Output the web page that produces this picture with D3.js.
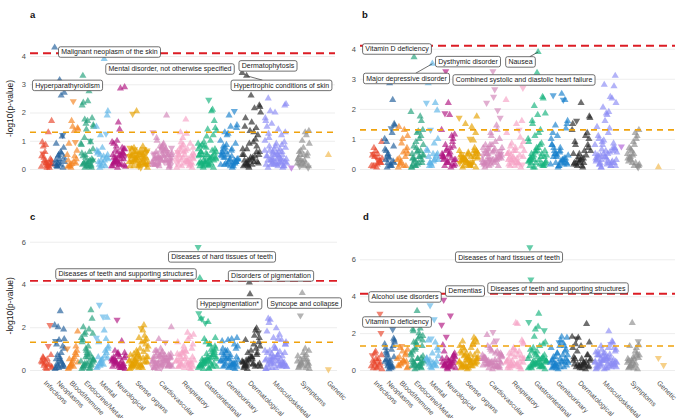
<!DOCTYPE html>
<html><head><meta charset="utf-8">
<script src="https://cdn.jsdelivr.net/npm/d3@7"></script>
<style>
body{margin:0;background:#fff}
svg{display:block}
text{font-family:"Liberation Sans",Arial,Helvetica,sans-serif}
</style>
</head><body>
<svg id="chart" width="680" height="418"></svg>
<script>
// ---------------- DATA ----------------
const categories = ["Infections","Neoplasms","Blood/Immune","Endocrine/Metabolic","Mental","Neurological","Sense organs","Cardiovascular","Respiratory","Gastrointestinal","Genitourinary","Dermatological","Musculoskeletal","Congenital","Symptoms","Injuries","Genetic"];
const axisLabels = ["Infections","Neoplasms","Blood/Immune","Endocrine/Metabolic","Mental","Neurological","Sense organs","Cardiovascular","Respiratory","Gastrointestinal","Genitourinary","Dermatological","Musculoskeletal","","Symptoms","","Genetic"];
// number of phenotypes tested per category (sets the width of each category on the x axis)
const phenotypeCounts = [27,25,27,31,30,34,46,48,44,45,43,45,53,14,30,28,20];
const bonferroni = [4.1, 4.1, 4.17, 4.13];
const nominal = 1.301;
const yTicksTop = [0,1,2,3,4];
const yTicksBottom = [0,2,4,6];
const panelTitles = ["a","b","c","d"];

// -log10(p) per phenotype; sign = direction of effect (negative => downward triangle)
const pheA = [
 [0.3,1.7,0.12,-0.55,0.2,0.85,0.08,1.3,0.4,0.15,-0.25,0.95,0.05,0.6,0.18,-0.1,0.8,0.35,0.22,0.45,0.1,-0.2,0.3,0.05],
 [0.2,2.7,0.15,0.9,-1.2,0.5,4.3,2.6,0.1,0.75,3.15,0.3,1.15,0.45,0.25,0.6,0.12,0.05,0.35,0.18,0.55,0.08,0.4,-0.25],
 [0.15,1.45,-2.4,0.9,0.2,1.7,0.5,1.35,0.1,0.65,1.5,0.3,-0.95,0.05,1.4,0.25,0.12,0.35,0.18,0.08,0.45],
 [1.75,0.3,2.4,3.3,0.15,1.6,0.9,2.75,0.2,1.8,0.1,2.25,-1.0,0.5,1.55,0.25,2.35,0.05,1.4,0.85,0.6,1.1,-0.3,1.7,0.15,0.95,0.4,1.5,0.08,0.2,0.35,0.12,0.55,0.3,0.05,0.7,0.2,0.45,0.1,0.25],
 [0.5,2.05,0.2,0.6,-1.25,0.3,1.5,3.9,0.15,1.9,0.75,0.55,0.1,1.2,0.35,0.45,0.25,0.4,0.1,0.65,0.3,0.05,0.5],
 [0.4,2.9,0.2,0.9,0.6,1.0,0.1,2.85,0.3,0.7,1.65,0.5,0.15,0.8,-0.45,1.4,0.25,0.55,0.05,0.95,0.35,0.65,0.12,0.45,0.2,0.75,0.3,0.08,0.5,0.2,0.35,0.6,0.1,0.45,0.28,0.7,0.15,0.4,0.55,0.25],
 [0.3,-0.6,0.15,0.5,-0.7,2.05,0.25,-0.4,0.1,0.65,-0.2,0.45,0.8,-0.35,0.05,0.55,-1.95,0.2,0.4,-0.75,0.3,0.6,-0.15,0.1,0.7,-0.5,0.35,0.25,-0.05,0.45,0.15,-0.3,0.55,0.2,0.4,-0.65,0.5,-0.25,0.35,0.6,-0.45,0.2,0.75,0.4,-0.1,0.3,0.5,-0.55,0.15,0.65,0.25,-0.35,0.45,0.1,0.55,-0.7],
 [0.4,-0.3,0.6,0.15,-0.55,0.8,0.25,-0.45,1.0,0.1,-0.7,0.35,1.9,-0.2,0.5,0.9,-0.35,0.2,0.65,-1.3,0.3,0.45,-0.1,0.75,0.15,-0.6,0.4,0.55,-0.25,1.1,0.05,0.3,-0.5,0.7,0.2,-0.4,0.85,0.35,0.5,-0.35,0.2,0.65,-0.15,0.4,0.8,-0.55,0.3,0.1,-0.75,0.45,0.6,-0.25,0.35,0.15,0.7,-0.4,0.25,0.5],
 [0.3,0.55,1.75,0.15,0.9,0.4,-0.25,0.7,1.3,0.2,0.5,-0.6,0.1,0.8,0.35,1.25,0.45,-0.15,0.6,0.05,0.25,0.95,0.4,0.65,-0.3,0.2,1.1,0.5,0.3,0.75,0.45,0.2,0.6,0.35,0.1,0.75,0.3,0.5,0.15,0.85,0.4,0.25,0.65,0.05],
 [0.3,1.45,0.15,0.6,2.1,0.25,0.9,0.4,-0.2,1.7,0.5,0.1,2.05,0.8,0.35,-2.45,0.2,1.2,0.55,0.45,1.0,0.05,0.7,1.4,0.25,0.65,-0.4,1.35,0.15,0.85,0.3,1.15,0.5,0.2,0.95,0.4,0.1,0.6,0.45,0.2,0.7,0.35,0.1,0.55,0.25,0.8,0.4,0.15,0.6,0.3,0.5,0.05,0.75,0.2],
 [0.2,1.55,0.35,0.7,-2.05,0.15,1.0,0.45,1.3,0.25,1.9,0.6,0.1,0.85,-0.3,1.5,0.4,0.2,1.25,0.5,0.05,0.75,1.45,0.3,0.55,-0.15,1.2,0.35,0.65,0.15,0.9,0.25,0.45,0.2,0.6,0.35,0.1,0.8,0.3,0.5,0.15,0.7,0.4,0.25],
 [0.3,2.25,0.15,1.5,0.6,0.9,3.4,1.3,3.3,0.2,2.6,0.5,1.05,0.1,2.2,0.4,1.8,0.25,1.35,0.7,2.15,0.15,0.5,1.65,0.3,1.45,0.05,2.0,0.95,0.2,1.2,0.4,0.1,0.45,0.2,0.6,0.35,0.15,0.8,0.3,0.5,0.25,0.7],
 [0.3,1.3,0.15,2.5,0.6,0.25,1.0,0.45,2.05,0.1,0.8,1.5,0.35,0.2,2.3,0.5,1.1,0.05,0.7,1.7,0.4,0.15,2.25,0.9,0.3,1.2,0.55,0.2,1.4,0.65,0.1,2.0,0.45,0.25,1.6,0.75,0.35,1.25,0.5,0.15,1.8,0.6,0.3,0.95,0.2,0.45,0.2,0.6,0.35,0.1,0.8,0.3,0.5,0.15,0.7,0.4,0.25,0.55,0.05,0.85,0.35,0.65,0.2],
 [-0.05],
 [0.3,1.35,0.1,0.6,0.45,1.0,0.2,1.3,0.5,-0.05,0.75,0.4,1.2,0.15,0.9,0.3,-0.1,0.55,0.25,0.35,0.2,0.65,0.1,0.5,-0.25],
 [],
 [0.5]
];
const pheB = [
 [0.4,0.9,0.15,-0.5,0.25,0.6,0.1,-0.3,0.7,0.2,0.05,0.45,0.3,-0.15,0.35,0.5,0.08,0.2,-0.4],
 [0.2,1.5,0.1,0.6,2.3,0.4,1.0,-1.35,0.05,0.75,2.85,0.3,1.2,0.5,1.45,0.15,0.9,0.25,0.35,0.65,0.1,0.45,0.2],
 [0.2,1.1,0.55,1.4,0.1,0.85,0.3,1.3,0.15,0.7,1.0,0.05,0.4,0.25,0.5,0.1,0.35,0.6],
 [0.3,1.3,0.6,0.15,1.1,0.9,1.9,0.4,3.72,0.2,1.2,0.5,1.75,0.1,0.8,1.25,0.35,1.6,0.7,0.05,1.0,0.25,0.45,0.15,0.35,0.6,0.1,0.45,0.2,0.75,0.3,0.55,0.05,0.4],
 [0.2,1.0,0.5,2.85,-0.35,0.15,-2.2,0.85,0.1,1.95,3.5,0.6,2.2,-1.3,0.3,0.25,0.4,0.45,0.1,0.65,0.3,0.2,0.5],
 [-3.25,1.15,0.5,0.3,0.9,0.2,1.3,0.7,-1.85,0.1,2.2,0.4,1.1,0.6,0.15,1.8,0.35,1.0,0.25,0.5,0.05,0.8,0.3,0.45,0.4,0.15,0.65,0.3,0.55,0.1,0.75,0.2,0.45,0.35],
 [0.3,1.75,0.15,-0.5,0.6,0.25,-1.7,0.4,0.1,1.2,0.55,-0.3,0.2,1.5,0.35,-1.0,0.05,0.7,0.45,-0.2,1.4,0.3,0.6,0.15,-0.4,0.95,0.25,0.5,0.1,0.35,-0.55,0.2,0.45,-0.25,0.3,0.55,0.1,-0.35,0.4,0.2,0.6,-0.15,0.35,0.05,0.5,0.25,-0.45,0.3,0.4,0.15],
 [0.4,-0.6,-3.25,0.2,-1.95,0.8,0.3,-2.65,0.5,1.0,-0.25,0.15,1.45,-0.7,0.35,-2.4,0.6,0.1,1.2,-0.45,0.9,0.25,-1.7,0.55,0.05,1.3,-0.3,0.7,0.2,-2.2,0.45,1.1,-0.15,0.35,0.65,-0.5,0.3,0.8,0.5,-0.35,0.2,0.65,-0.15,0.4,0.8,-0.55,0.3,0.1,0.45,0.6,-0.25,0.35,0.15,0.7,0.25,0.5],
 [0.3,-2.7,0.6,0.15,1.05,0.4,2.3,0.2,0.75,1.6,0.1,0.5,-1.3,0.25,0.9,1.5,0.35,0.05,0.6,1.2,0.2,0.45,-0.15,0.7,0.3,0.45,0.2,0.6,0.35,0.1,0.75,0.3,0.5,0.15,0.85,0.4,0.25,0.55],
 [0.3,1.85,3.89,0.2,2.4,0.6,1.0,0.15,1.5,0.4,3.2,0.1,0.85,2.1,0.25,1.2,0.5,2.35,0.2,0.9,1.3,0.05,0.6,1.8,0.35,0.15,1.1,0.45,0.3,1.6,0.1,0.7,0.25,0.4,0.45,0.2,0.7,0.35,0.1,0.55,0.25,0.8,0.4,0.15,0.6,0.3,0.5,0.05],
 [0.2,1.5,0.6,-2.45,0.35,1.1,0.15,2.5,0.5,1.35,0.1,0.8,-2.3,0.4,1.6,0.25,0.7,2.3,0.05,1.0,0.3,1.45,0.2,0.55,1.2,0.15,0.45,0.45,0.2,0.6,0.35,0.1,0.8,0.3,0.5,0.15,0.7,0.4,0.25],
 [0.3,1.75,0.1,0.9,2.85,0.5,1.3,0.2,-1.6,0.7,2.2,0.15,1.1,0.4,1.7,0.05,0.8,1.2,0.25,1.5,0.6,0.1,1.0,0.35,0.2,0.45,0.2,0.6,0.35,0.15,0.8,0.3,0.5],
 [0.3,3.1,0.15,1.1,2.35,0.5,0.8,1.9,0.2,2.75,0.4,1.4,0.1,0.9,2.2,0.25,1.0,0.6,2.8,0.35,1.35,0.05,0.7,1.85,0.45,0.2,2.05,0.55,1.2,0.15,0.85,1.6,0.3,2.4,0.65,0.1,1.8,0.4,0.25,0.95,0.5,0.2,0.45,0.2,0.6,0.35,0.1,0.8,0.3,0.5,0.15,0.7,0.4,0.25,0.55,0.05,0.65,0.35],
 [-0.75],
 [0.3,1.3,0.1,0.7,1.1,0.2,0.5,1.2,0.4,-0.05,0.9,0.25,1.0,0.6,0.15,0.8,0.35,-0.1,0.45,0.35,0.2,0.65,0.1,0.5],
 [],
 [0.06]
];
const pheC = [
 [0.3,0.15,0.5,0.6,-2.1,0.1,0.4,-1.12,0.2,0.7,0.05,0.35,0.25,0.45,0.1,0.25,0.55],
 [0.2,1.45,2.75,0.5,1.1,0.1,2.1,0.8,0.3,1.9,0.6,-1.35,0.15,2.0,1.0,0.4,1.2,0.25,1.4,0.05,0.35,0.7,0.15,0.5,0.1],
 [0.2,1.8,0.5,0.1,1.1,0.3,-1.0,0.6,0.15,0.9,0.4,0.05,0.8,0.25,0.35,0.15,0.5,0.7],
 [0.3,1.7,0.6,0.15,2.8,1.0,0.4,1.9,0.2,2.4,0.8,1.3,0.1,1.75,0.5,1.1,2.0,0.25,0.9,1.5,0.05,1.65,0.35,0.7,1.4,0.2,0.6,0.45,0.35,0.1,0.55,0.3,0.05,0.75,0.2,0.45],
 [0.2,1.0,-2.5,0.6,1.45,0.3,-1.5,1.85,-3.05,2.45,0.5,0.15,0.9,0.4,1.1,0.25,1.3,0.8,0.45,0.1,0.65,0.3,0.55],
 [0.4,0.8,0.2,0.6,0.1,-2.35,0.5,0.3,0.9,0.15,0.7,0.45,1.35,0.25,0.05,0.6,0.35,0.2,0.75,0.4,0.1,0.3,0.55,0.15,0.5,0.2,0.35,0.65,0.1,0.45,0.28,0.8,0.15,0.4],
 [0.3,1.45,0.6,0.15,2.1,0.9,0.4,-1.95,0.2,1.2,0.7,0.1,1.85,0.5,0.35,1.0,0.25,1.6,0.8,0.05,1.3,0.45,0.6,1.5,0.2,0.85,0.35,1.1,0.15,0.55,1.4,0.3,0.7,0.1,0.4,0.95,0.5,0.25,0.35,0.65,0.45,0.2,0.75,0.4,0.1,0.3,0.55,0.15,0.6,0.25],
 [0.3,0.6,-0.2,0.9,0.15,0.45,0.35,0.7,-0.35,0.25,0.8,0.1,0.5,1.45,2.0,-0.6,0.65,0.2,1.0,0.4,-1.3,0.05,0.55,0.85,0.3,-0.45,0.7,0.15,0.5,0.9,0.25,-0.1,0.6,0.4,0.2,0.75,0.5,-0.35,0.2,0.65,-0.15,0.4,0.8,-0.55,0.3,0.1,0.45,0.6,-0.25,0.35,0.15,0.7,0.25,0.5],
 [0.3,1.2,0.6,0.15,1.55,0.9,0.4,1.75,0.2,1.0,0.5,1.3,0.1,0.8,1.65,0.35,0.7,0.05,1.1,0.45,1.45,0.25,0.6,0.9,0.15,0.4,0.75,0.45,0.2,0.6,0.35,0.1,0.75,0.3,0.5,0.15,0.85,0.4,0.25],
 [0.3,1.5,2.25,2.4,0.15,-2.2,-5.75,1.2,0.4,0.9,0.5,4.3,0.2,1.45,0.6,0.1,-2.4,0.7,1.3,-2.65,0.35,0.05,1.1,0.6,0.25,0.85,0.45,0.15,1.2,0.5,0.3,0.75,0.2,0.95,0.4,1.0,0.45,0.2,0.7,0.35,0.1,0.55,0.25,0.8,0.4,0.15,0.6,0.3,0.5,0.05],
 [0.3,1.5,0.6,0.15,1.2,0.9,0.4,1.45,0.2,1.0,0.5,1.35,0.1,0.8,1.1,0.35,0.7,0.05,1.4,0.45,0.25,0.9,0.6,0.15,1.0,0.3,0.55,0.45,0.2,0.6,0.35,0.1,0.8,0.3,0.5,0.15,0.7,0.4,0.25],
 [0.3,1.5,0.6,0.15,1.95,4.1,0.4,1.2,0.2,-1.75,0.9,0.1,1.85,0.5,1.1,0.25,1.4,0.8,3.55,0.35,1.6,0.05,1.3,0.6,0.2,1.0,0.45,0.15,0.3,0.45,0.2,0.6,0.35,0.15,0.8,0.3,0.5,0.25,0.7],
 [0.3,1.2,0.6,2.4,0.15,1.5,0.9,0.4,2.35,0.2,1.0,1.8,0.5,0.1,1.3,0.7,2.2,0.35,1.1,0.05,1.65,0.45,0.8,1.95,0.25,1.4,0.6,0.15,1.45,0.9,0.3,1.0,0.5,0.2,0.75,1.2,0.4,0.1,0.65,0.3,0.45,0.2,0.6,0.35,0.1,0.8,0.3,0.5,0.15,0.7,0.4,0.25,0.55,0.05,0.85,0.35],
 [],
 [0.3,0.9,0.6,0.15,0.5,3.6,0.4,1.0,-2.55,0.2,0.8,0.1,0.7,0.35,0.05,0.45,0.25,0.35,0.2,0.65,0.1,0.5,0.3],
 [],
 [-0.03]
];
const pheD = [
 [0.3,0.8,0.15,0.5,-3.05,1.0,0.2,0.6,0.4,-2.0,0.1,-0.8,0.25,0.9,0.05,0.45,0.1,0.35,0.6],
 [0.2,1.6,0.5,1.0,-2.2,0.3,1.4,0.1,0.8,1.7,0.4,1.2,0.15,0.6,1.5,0.25,0.9,1.3,0.05,0.45,1.1,0.35,0.7,0.15,0.55,0.2],
 [0.3,1.1,0.5,0.2,0.9,-1.3,0.6,0.4,1.2,0.1,1.0,0.25,0.8,0.35,0.15,0.5,0.7,0.45],
 [0.3,1.85,0.6,2.2,0.15,1.5,0.9,2.0,0.4,1.3,3.2,0.2,2.25,1.1,0.5,1.7,2.1,0.1,1.4,0.8,1.8,0.25,1.6,0.6,1.0,0.35,1.2,0.45,0.2,1.5,0.35,0.1,0.55,0.3,0.05,0.75,0.2,0.45,0.65],
 [-3.5,1.05,0.4,1.6,0.2,-1.7,0.6,-2.75,0.3,1.2,0.9,0.5,1.5,0.15,0.75,0.25,0.4,0.45,0.1,0.65,0.3,0.55],
 [0.4,0.9,0.2,-3.8,0.6,0.1,-2.45,-2.95,0.3,0.8,0.5,1.35,0.15,-1.8,0.7,0.25,1.0,0.4,0.05,0.6,0.3,0.2,0.5,0.45,0.2,0.35,0.65,0.1,0.5,0.28,0.75,0.15,0.4],
 [0.3,1.5,0.6,0.15,1.75,0.9,0.4,1.2,0.2,1.65,0.7,0.1,1.4,0.5,1.0,0.35,1.55,0.8,0.05,1.3,0.45,1.1,0.6,0.25,0.9,1.5,0.15,0.7,0.4,1.2,0.3,0.55,1.0,0.2,0.8,0.45,0.5,0.25,0.35,0.65,0.45,0.2,0.75,0.4,0.1,0.3,0.55,0.15,0.6,0.85],
 [0.3,0.9,-2.05,0.5,0.15,1.2,0.6,0.4,1.9,0.2,1.0,0.7,-1.6,0.1,0.8,1.5,0.35,0.55,1.1,0.25,0.9,1.3,0.45,0.05,0.65,1.0,0.3,0.75,0.2,0.5,0.85,0.4,0.6,0.15,0.5,0.35,0.2,0.65,0.15,0.4,0.8,0.55,0.3,0.1,0.45,0.6,0.25,0.35,0.7],
 [0.3,1.5,2.55,0.6,0.15,1.1,0.4,2.5,0.2,1.6,0.7,0.1,1.0,0.5,1.4,0.25,0.9,0.05,1.2,0.45,0.8,0.35,0.6,1.0,0.2,0.45,0.2,0.6,0.35,0.1,0.75,0.3,0.5,0.15,0.85,0.4],
 [0.3,1.5,2.35,-4.9,0.15,2.2,0.6,1.3,0.4,-2.15,1.0,-6.65,0.2,1.8,0.5,3.05,0.1,1.4,0.8,-2.6,0.35,1.2,0.05,0.7,1.1,0.25,0.9,0.45,0.15,1.0,0.6,0.3,0.75,0.2,0.5,0.4,0.45,0.2,0.7,0.35,0.1,0.55,0.25,0.8,0.4,0.15,0.6,0.3,0.5],
 [0.3,1.75,0.6,0.15,1.3,0.9,0.4,1.8,0.2,1.1,-1.5,0.5,1.45,0.1,0.8,1.6,0.35,1.0,0.05,1.2,0.45,0.7,0.25,1.3,0.55,0.15,0.9,0.4,0.45,0.2,0.6,0.35,0.1,0.8,0.3,0.5,0.15,0.7,0.4],
 [0.3,1.5,0.1,0.6,2.5,0.2,1.8,0.4,-1.7,0.15,1.3,0.7,0.05,1.75,0.5,0.25,1.4,0.8,0.1,1.2,0.35,1.0,0.2,0.6,0.3,0.45,0.2,0.6,0.35,0.15,0.8,0.3,0.5,0.25],
 [0.3,1.0,0.6,0.15,1.55,0.9,0.4,2.1,0.2,1.2,0.7,0.1,-1.4,0.5,1.1,0.35,0.8,1.5,0.05,0.95,0.45,1.3,0.25,0.6,1.0,0.15,0.75,0.4,1.2,0.3,0.55,0.9,0.2,0.65,1.1,0.45,0.1,0.8,0.35,0.5,0.45,0.2,0.6,0.35,0.1,0.8,0.3,0.5,0.15,0.7,0.4,0.25,0.55,0.05,0.85],
 [],
 [0.3,1.35,0.6,0.15,0.9,2.55,0.4,1.0,0.2,-1.55,0.7,0.1,1.2,0.5,0.8,0.25,1.3,0.05,0.45,0.6,0.35,0.2,0.65,0.1,0.5,0.75],
 [],
 [-0.65,-0.27]
];

// labelled phenotypes: category, value of the labelled point, label anchor (phenotype index, -log10 p)
const annotA = [
 {text:"Malignant neoplasm of the skin", cat:1, val:4.3, lx:139, ly:4.14, seg:false},
 {text:"Mental disorder, not otherwise specified", cat:4, val:3.9, lx:260, ly:3.54, seg:false},
 {text:"Hyperparathyroidism", cat:3, val:3.3, lx:55, ly:2.96, seg:false},
 {text:"Dermatophytosis", cat:11, val:3.4, lx:456, ly:3.65, seg:false},
 {text:"Hypertrophic conditions of skin", cat:11, val:3.3, lx:483, ly:2.96, seg:true}
];
const annotB = [
 {text:"Vitamin D deficiency", cat:3, val:3.72, lx:54, ly:3.99, seg:false},
 {text:"Dysthymic disorder", cat:4, val:null, lx:196, ly:3.57, seg:false},
 {text:"Major depressive disorder", cat:4, val:3.5, lx:73, ly:3.01, seg:true},
 {text:"Nausea", cat:9, val:3.89, lx:301, ly:3.56, seg:true},
 {text:"Combined systolic and diastolic heart failure", cat:7, val:-3.25, lx:308, ly:2.96, seg:false}
];
const annotC = [
 {text:"Diseases of hard tissues of teeth", cat:9, val:-5.75, lx:364, ly:5.29, seg:false},
 {text:"Diseases of teeth and supporting structures", cat:9, val:4.3, lx:172, ly:4.49, seg:false},
 {text:"Disorders of pigmentation", cat:11, val:4.1, lx:462, ly:4.40, seg:false},
 {text:"Hypepigmentation*", cat:11, val:3.55, lx:379, ly:3.09, seg:false},
 {text:"Syncope and collapse", cat:14, val:3.6, lx:529, ly:3.13, seg:false}
];
const annotD = [
 {text:"Diseases of hard tissues of teeth", cat:9, val:-6.65, lx:278, ly:6.12, seg:false},
 {text:"Diseases of teeth and supporting structures", cat:9, val:-4.9, lx:376, ly:4.44, seg:false},
 {text:"Dementias", cat:5, val:-3.8, lx:190, ly:4.28, seg:false},
 {text:"Alcohol use disorders", cat:4, val:-3.5, lx:70, ly:3.96, seg:false},
 {text:"Vitamin D deficiency", cat:3, val:3.2, lx:54, ly:2.60, seg:false}
];

// ---------------- STYLE / LAYOUT ----------------
const catColors = ["#e8442a","#1f5c99","#f5821f","#20a07a","#5db4e6","#b0137f","#e5a100","#d184b7","#f6a3c6","#16b37c","#1780cb","#252525","#8b8cf4","#b060d8","#8d8d8d","#999999","#f2b84b"];
const panelLayout = [
 {data:pheA, ann:annotA, x0:30,  gridEnd:335, yd:[0,4], yr:[169,56],    ticks:yTicksTop,    tx:30,  ty:17.5,  yTitle:true,  xLab:false},
 {data:pheB, ann:annotB, x0:360, gridEnd:675, yd:[0,4], yr:[169,48.7],  ticks:yTicksTop,    tx:362, ty:17.5,  yTitle:false, xLab:false},
 {data:pheC, ann:annotC, x0:30,  gridEnd:337, yd:[0,6], yr:[370,241.7], ticks:yTicksBottom, tx:30,  ty:219.5, yTitle:true,  xLab:true},
 {data:pheD, ann:annotD, x0:360, gridEnd:675, yd:[0,6], yr:[370,259.3], ticks:yTicksBottom, tx:363, ty:219.5, yTitle:false, xLab:true}
];

const svg = d3.select("#chart");
const starts = phenotypeCounts.map((c,i)=> d3.sum(phenotypeCounts.slice(0,i)));
const total = d3.sum(phenotypeCounts);
const frac = j => ((j + 0.5) * 0.6180339887) % 1;
const tri = d3.symbol().type(d3.symbolTriangle).size(22);

panelLayout.forEach((P, pi) => {
  const g = svg.append("g");
  const x = d3.scaleLinear().domain([-20, total]).range([P.x0, P.x0 + 305]);
  const y = d3.scaleLinear().domain(P.yd).range(P.yr);

  const ax = g.append("g").attr("transform", `translate(${P.x0},0)`)
    .call(d3.axisLeft(y).tickValues(P.ticks).tickFormat(d3.format("d")).tickSize(-(P.gridEnd - P.x0)).tickPadding(4));
  ax.select(".domain").remove();
  ax.selectAll(".tick line").attr("stroke","#e5e5e5").attr("stroke-width",0.7);
  ax.selectAll(".tick text").attr("fill","#4d4d4d").attr("font-size",7.5)
    .attr("font-family",'"Liberation Sans",Arial,sans-serif');

  const pts = [];
  P.data.forEach((arr, ci) => arr.forEach((v, j) => {
    pts.push({ci, v, j, xi: starts[ci] + phenotypeCounts[ci] * (0.08 + 0.84 * frac(j))});
  }));
  g.append("g").selectAll("path").data(pts).join("path")
    .attr("d", tri)
    .attr("transform", d => `translate(${x(d.xi)},${y(Math.abs(d.v))})` + (d.v < 0 ? " rotate(180)" : ""))
    .attr("fill", d => catColors[d.ci])
    .attr("fill-opacity", 0.66);

  g.append("line").attr("x1",P.x0).attr("x2",P.gridEnd)
    .attr("y1",y(nominal)).attr("y2",y(nominal))
    .attr("stroke","#efa20c").attr("stroke-width",1.6).attr("stroke-dasharray","6,5");
  g.append("line").attr("x1",P.x0).attr("x2",P.gridEnd)
    .attr("y1",y(bonferroni[pi])).attr("y2",y(bonferroni[pi]))
    .attr("stroke","#dc1c24").attr("stroke-width",1.9).attr("stroke-dasharray","8,5");

  const ag = g.append("g");
  P.ann.forEach(a => {
    const cx = x(a.lx), cy = y(a.ly);
    const t = ag.append("text").attr("x", cx).attr("y", cy).attr("dy","0.35em")
      .attr("text-anchor","middle").attr("font-size",7).attr("fill","#1a1a1a").text(a.text);
    const w = t.node().getComputedTextLength() + 5.5, h = 10.5;
    const bx = cx - w/2, by = cy - h/2;
    if (a.seg && a.val !== null) {
      const arr = P.data[a.cat];
      const j = arr.indexOf(a.val);
      const px = x(starts[a.cat] + phenotypeCounts[a.cat] * (0.08 + 0.84 * frac(j)));
      const py = y(Math.abs(a.val));
      const dx = cx - px, dy = cy - py;
      let tEnter = 0;
      [[bx, bx + w, px, dx], [by, by + h, py, dy]].forEach(([lo, hi, p0, d]) => {
        if (d !== 0) {
          const t1 = (lo - p0) / d, t2 = (hi - p0) / d;
          tEnter = Math.max(tEnter, Math.min(t1, t2));
        }
      });
      ag.insert("line", "text").attr("x1",px).attr("y1",py)
        .attr("x2", px + dx * tEnter).attr("y2", py + dy * tEnter)
        .attr("stroke","#333").attr("stroke-width",0.7);
    }
    ag.insert("rect", () => t.node()).attr("x",bx).attr("y",by).attr("width",w).attr("height",h)
      .attr("rx",2).attr("fill","#fff").attr("stroke","#333").attr("stroke-width",0.7);
  });

  if (P.xLab) {
    categories.forEach((c, ci) => {
      if (!axisLabels[ci]) return;
      const cxp = x(starts[ci] + phenotypeCounts[ci] / 2);
      g.append("text").attr("transform", `translate(${cxp - 2},${382}) rotate(45)`)
        .attr("font-size",7).attr("fill","#4d4d4d").attr("text-anchor","start").attr("dy","0.3em")
        .text(axisLabels[ci]);
    });
  }

  if (P.yTitle) {
    const mid = (y(P.yd[0]) + y(P.yd[1])) / 2 + (pi === 0 ? -4 : 0);
    g.append("text").attr("transform", `translate(12.5,${mid}) rotate(-90)`)
      .attr("text-anchor","middle").attr("font-size",8.5).attr("fill","#1a1a1a").text("-log10(p-value)");
  }

  g.append("text").attr("x",P.tx).attr("y",P.ty).attr("font-size",9.5).attr("font-weight","bold")
    .attr("fill","#111").text(panelTitles[pi]);
});
</script>
</body></html>
